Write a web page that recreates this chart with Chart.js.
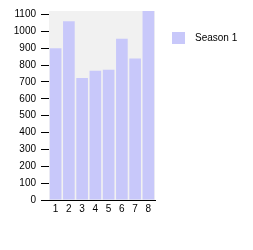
<!DOCTYPE html>
<html>
<head>
<meta charset="utf-8">
<script src="https://cdn.jsdelivr.net/npm/chart.js@4"></script>
<style>
  html, body { margin: 0; padding: 0; background: #fff; }
  #wrap { width: 253px; height: 250px; }
</style>
</head>
<body>
<div id="wrap"><canvas id="bars"></canvas></div>
<script>
var categories = ['1', '2', '3', '4', '5', '6', '7', '8'];
var season1 = [900, 1060, 723, 766, 772, 955, 839, 1130];
var seriesName = 'Season 1';
var yTicks = [0, 100, 200, 300, 400, 500, 600, 700, 800, 900, 1000, 1100];
var yMax = 1120;

var barColor = '#c8c8fa';

// grey plot background + hand drawn legend on the right
var plotBg = {
  id: 'plotBg',
  beforeDatasetsDraw: function (chart) {
    var a = chart.chartArea, c = chart.ctx;
    c.save();
    c.fillStyle = '#f1f1f1';
    c.fillRect(a.left, a.top, a.right - a.left, a.bottom - a.top);
    c.restore();
  },
  afterDraw: function (chart) {
    var c = chart.ctx;
    c.save();
    c.fillStyle = barColor;
    c.fillRect(172, 32, 13, 12);
    c.fillStyle = '#000';
    c.font = '10px "Liberation Sans", Arial, sans-serif';
    c.textBaseline = 'middle';
    c.fillText(seriesName, 195, 38.5);
    c.restore();
  }
};

new Chart(document.getElementById('bars'), {
  type: 'bar',
  data: {
    labels: categories,
    datasets: [{
      label: seriesName,
      data: season1,
      backgroundColor: barColor,
      borderWidth: 0,
      categoryPercentage: 1,
      barPercentage: 0.88
    }]
  },
  options: {
    responsive: true,
    maintainAspectRatio: false,
    animation: false,
    layout: { padding: { left: 0, right: 98, top: 10, bottom: 0 } },
    plugins: { legend: { display: false }, tooltip: { enabled: false } },
    scales: {
      x: {
        grid: { display: false, drawTicks: false, tickLength: 0 },
        border: { display: true, color: '#000', width: 1 },
        ticks: { color: '#000', padding: 3, font: { family: '"Liberation Sans", Arial', size: 10 } },
        afterFit: function (s) { s.height = 50; }
      },
      y: {
        min: 0,
        max: yMax,
        ticks: {
          color: '#000', padding: 5, font: { family: '"Liberation Sans", Arial', size: 10 },
          callback: function (v) { return String(v); }
        },
        grid: { drawOnChartArea: false, drawTicks: true, tickLength: 8, color: '#000' },
        border: { display: true, color: '#000', width: 1 },
        afterBuildTicks: function (s) { s.ticks = yTicks.map(function (v) { return { value: v }; }); },
        afterFit: function (s) { s.width = 49; }
      }
    }
  },
  plugins: [plotBg]
});
</script>
</body>
</html>
